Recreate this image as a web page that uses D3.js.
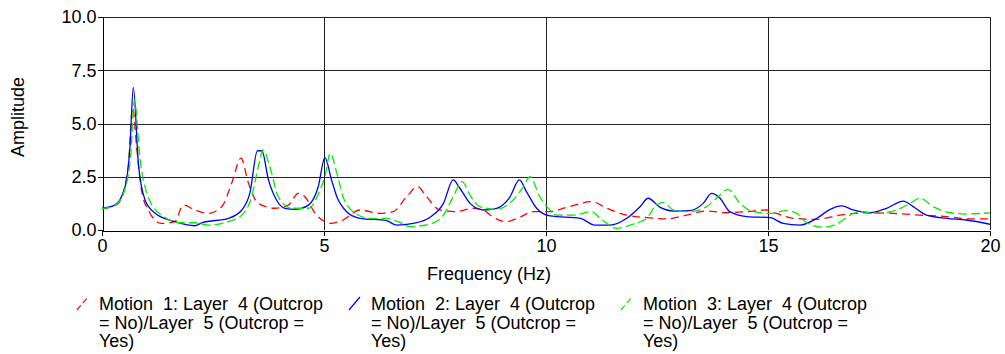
<!DOCTYPE html>
<html>
<head>
  <meta charset="utf-8">
  <title>Amplitude vs Frequency</title>
  <script src="https://d3js.org/d3.v7.min.js"></script>
  <style>
    body { margin: 0; background: #fff; }
    text { font-family: "Liberation Sans", Arial, sans-serif; fill: #000; }
  </style>
</head>
<body>
  <script>
    // data
    const motion1Freq = [0, 0.2, 0.37, 0.59, 0.69, 0.78, 0.89, 1.04, 1.34, 1.64, 1.83, 2.09, 2.39, 2.7, 2.92, 3.13, 3.3, 3.52, 3.9, 4.2, 4.42, 4.57, 4.8, 5.02, 5.14, 5.43, 5.81, 6.26, 6.56, 6.86, 7.11, 7.31, 7.61, 7.99, 8.36, 8.59, 8.81, 9.11, 9.41, 9.71, 10.09, 10.47, 11.03, 11.37, 11.82, 12.27, 12.72, 13.17, 13.62, 14.07, 14.52, 14.97, 15.19, 15.57, 16.1, 16.62, 17.22, 17.82, 18.42, 19.02, 19.55, 20];
    const motion1Amp = [1.0, 1.08, 1.25, 2.97, 5.75, 3.9, 1.88, 0.94, 0.31, 0.39, 1.17, 0.94, 0.78, 1.1, 2.19, 3.37, 2.19, 1.25, 1.02, 1.17, 1.72, 1.56, 0.78, 0.39, 0.31, 0.47, 0.94, 0.78, 0.86, 1.56, 2.03, 1.56, 0.94, 0.86, 1.02, 0.94, 0.6, 0.39, 0.6, 0.86, 0.86, 1.06, 1.33, 1.02, 0.7, 0.58, 0.52, 0.7, 0.89, 0.81, 0.86, 0.94, 0.78, 0.55, 0.5, 0.7, 0.81, 0.78, 0.7, 0.63, 0.52, 0.52];

    const motion2Freq = [0, 0.29, 0.52, 0.63, 0.705, 0.82, 0.97, 1.19, 1.64, 2.09, 2.25, 2.85, 3.15, 3.33, 3.5, 3.6, 3.75, 3.93, 4.12, 4.35, 4.65, 4.87, 5.02, 5.17, 5.29, 5.51, 5.81, 6.41, 6.64, 7.01, 7.39, 7.69, 7.91, 8.06, 8.29, 8.59, 8.89, 9.19, 9.4, 9.56, 9.79, 10.09, 10.77, 11.1, 11.44, 11.82, 12.12, 12.3, 12.57, 12.87, 13.24, 13.54, 13.73, 13.92, 14.14, 14.52, 15.05, 15.34, 15.72, 16.1, 16.4, 16.66, 16.92, 17.3, 17.67, 18.05, 18.27, 18.57, 19.02, 19.47, 20];
    const motion2Amp = [1.02, 1.17, 2.03, 3.9, 6.7, 3.1, 1.41, 0.8, 0.39, 0.2, 0.34, 0.55, 0.94, 1.73, 3.72, 3.72, 2.35, 1.41, 1.02, 0.97, 1.17, 2.03, 3.4, 2.35, 1.56, 0.86, 0.55, 0.44, 0.23, 0.31, 0.6, 1.25, 2.35, 1.96, 1.25, 0.94, 1.02, 1.56, 2.35, 1.8, 1.02, 0.66, 0.55, 0.23, 0.23, 0.55, 1.1, 1.49, 1.06, 0.89, 0.91, 1.25, 1.72, 1.49, 0.86, 0.63, 0.58, 0.31, 0.23, 0.55, 0.97, 1.13, 0.94, 0.81, 1.02, 1.36, 1.1, 0.7, 0.55, 0.47, 0.27];

    const motion3Freq = [0, 0.29, 0.52, 0.65, 0.73, 0.86, 1.04, 1.34, 1.79, 2.09, 2.39, 2.85, 3.15, 3.37, 3.52, 3.63, 3.78, 3.97, 4.27, 4.65, 4.91, 5.02, 5.14, 5.29, 5.43, 5.66, 6.04, 6.41, 6.67, 6.94, 7.39, 7.69, 7.91, 8.11, 8.29, 8.51, 8.89, 9.26, 9.49, 9.64, 9.86, 10.09, 10.24, 10.61, 11.03, 11.22, 11.59, 11.97, 12.27, 12.45, 12.64, 12.87, 13.24, 13.62, 13.92, 14.1, 14.37, 14.67, 15.05, 15.42, 15.65, 15.87, 16.25, 16.55, 16.85, 17.07, 17.45, 17.9, 18.2, 18.42, 18.72, 19.1, 19.47, 20];
    const motion3Amp = [1.0, 1.15, 1.95, 3.6, 6.1, 3.29, 1.56, 0.7, 0.34, 0.34, 0.23, 0.39, 0.7, 1.56, 2.97, 3.76, 2.97, 1.56, 1.02, 1.02, 1.88, 2.5, 3.6, 2.66, 1.56, 0.86, 0.55, 0.55, 0.39, 0.16, 0.28, 0.7, 1.56, 2.27, 1.64, 1.1, 0.97, 1.41, 2.03, 2.5, 1.56, 0.94, 0.7, 0.7, 0.86, 0.55, 0.08, 0.28, 0.55, 1.1, 1.3, 0.94, 0.86, 1.1, 1.64, 1.91, 1.25, 0.86, 0.78, 0.91, 0.78, 0.34, 0.13, 0.28, 0.7, 0.86, 0.78, 0.94, 1.25, 1.49, 1.1, 0.81, 0.75, 0.81];

    const xTicks = [0, 5, 10, 15, 20];
    const yTicks = [0, 2.5, 5, 7.5, 10];
    const seriesNames = [
      ["Motion  1: Layer  4 (Outcrop", "= No)/Layer  5 (Outcrop =", "Yes)"],
      ["Motion  2: Layer  4 (Outcrop", "= No)/Layer  5 (Outcrop =", "Yes)"],
      ["Motion  3: Layer  4 (Outcrop", "= No)/Layer  5 (Outcrop =", "Yes)"]
    ];

    const series = [
      {freq: motion1Freq, amp: motion1Amp, color: "#ff0000", dash: "8,5"},
      {freq: motion2Freq, amp: motion2Amp, color: "#0000ff", dash: null},
      {freq: motion3Freq, amp: motion3Amp, color: "#00ee00", dash: "9,4"}
    ];

    // plot box in page pixels
    const W = 1005, H = 354;
    const plotLeft = 102, plotRight = 990, plotTop = 17, plotBottom = 230;

    const svg = d3.select("body").append("svg")
        .attr("width", W)
        .attr("height", H);

    const x = d3.scaleLinear().domain([0, 20]).range([plotLeft, plotRight]);
    const y = d3.scaleLinear().domain([0, 10]).range([plotBottom, plotTop]);

    // grid
    const grid = svg.append("g").attr("shape-rendering", "crispEdges");
    grid.selectAll(".hgrid")
      .data(yTicks.filter(d => d > 0))
      .enter().append("line")
        .attr("x1", plotLeft).attr("x2", plotRight)
        .attr("y1", d => Math.round(y(d)) + 0.5)
        .attr("y2", d => Math.round(y(d)) + 0.5)
        .attr("stroke", "#222");
    grid.selectAll(".vgrid")
      .data(xTicks.filter(d => d > 0))
      .enter().append("line")
        .attr("y1", plotTop).attr("y2", plotBottom)
        .attr("x1", d => Math.round(x(d)) + 0.5)
        .attr("x2", d => Math.round(x(d)) + 0.5)
        .attr("stroke", "#222");

    // axes
    const xAxis = svg.append("g")
        .attr("transform", `translate(0,${plotBottom + 0.5})`)
        .call(d3.axisBottom(x).tickValues(xTicks).tickFormat(d3.format("d"))
          .tickSize(5).tickSizeOuter(0).tickPadding(4));
    const yAxis = svg.append("g")
        .attr("transform", `translate(${plotLeft + 0.5},0)`)
        .call(d3.axisLeft(y).tickValues(yTicks).tickFormat(d3.format(".1f"))
          .tickSize(5).tickSizeOuter(0).tickPadding(1));

    [xAxis, yAxis].forEach(function(g) {
      g.selectAll("text").style("font-size", "18px").attr("fill", "#000")
        .style("font-family", "'Liberation Sans', Arial, sans-serif");
      g.selectAll("line, path").attr("stroke", "#000").attr("shape-rendering", "crispEdges");
    });

    // curves
    const line = d3.line()
        .x(d => x(d[0]))
        .y(d => y(d[1]))
        .curve(d3.curveMonotoneX);

    const plot = svg.append("g");
    plot.append("clipPath").attr("id", "clip")
      .append("rect").attr("x", plotLeft).attr("y", plotTop)
        .attr("width", plotRight - plotLeft).attr("height", plotBottom - plotTop);

    plot.selectAll(".curve")
      .data(series)
      .enter().append("path")
        .attr("class", "curve")
        .attr("clip-path", "url(#clip)")
        .attr("d", s => line(s.freq.map((f, i) => [f, s.amp[i]])))
        .attr("fill", "none")
        .attr("stroke", s => s.color)
        .attr("stroke-width", 1.3)
        .attr("stroke-dasharray", s => s.dash);

    // axis titles
    svg.append("text")
        .attr("x", 489).attr("y", 280)
        .attr("text-anchor", "middle")
        .style("font-size", "18px")
        .text("Frequency (Hz)");

    svg.append("text")
        .attr("transform", "translate(24,117) rotate(-90)")
        .attr("text-anchor", "middle")
        .style("font-size", "18px")
        .text("Amplitude");

    // legend
    const legend = svg.selectAll(".legend")
      .data(series)
      .enter().append("g")
        .attr("class", "legend")
        .attr("transform", (d, i) => `translate(${77 + i * 272},0)`);

    legend.append("line")
        .attr("x1", 0).attr("y1", 310)
        .attr("x2", 11).attr("y2", 297)
        .attr("stroke", d => d.color)
        .attr("stroke-width", 1.2)
        .attr("stroke-dasharray", d => d.dash ? "6,3" : null);

    legend.append("text")
        .attr("x", 22)
        .attr("y", 310)
        .style("font-size", "18px")
        .style("white-space", "pre")
        .selectAll("tspan")
        .data((d, i) => seriesNames[i])
        .enter().append("tspan")
          .attr("x", 22)
          .attr("dy", (d, j) => j === 0 ? 0 : 18.5)
          .text(d => d);
  </script>
</body>
</html>
